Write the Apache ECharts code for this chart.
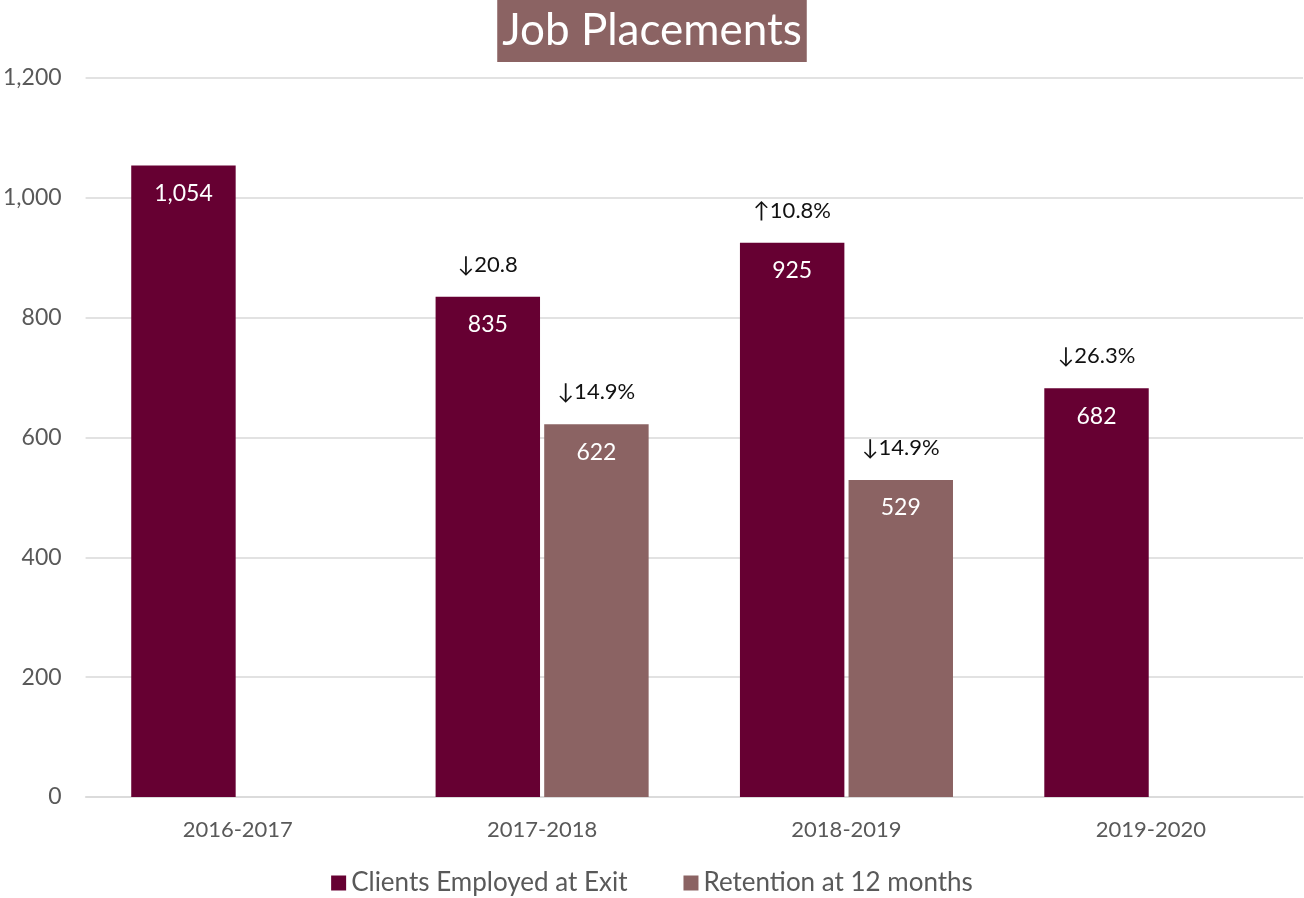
<!DOCTYPE html>
<html>
<head>
<meta charset="utf-8">
<script src="https://cdn.jsdelivr.net/npm/echarts@6/dist/echarts.min.js"></script>
<style>
  html, body { margin: 0; padding: 0; background: #fff; }
  #chart-container { width: 1304px; height: 898px; }
</style>
</head>
<body>
<div id="chart-container"></div>
<script>
const years = ['2016-2017', '2017-2018', '2018-2019', '2019-2020']
const employed = [1054, 835, 925, 682]
const retention = [null, 622, 529, null]
const employedNotes = ['', '↓20.8', '↑10.8%', '↓26.3%']
const retentionNotes = ['', '↓14.9%', '↓14.9%', '']
const yTicks = [0, 200, 400, 600, 800, 1000, 1200]

const font = 'Lato, "Open Sans", sans-serif'

const dom = document.getElementById('chart-container')
const myChart = echarts.init(dom, null, { renderer: 'canvas' })

const barLabel = notes => ({
  show: true,
  position: 'insideTop',
  distance: 0,
  offset: [0, -80],
  formatter: p => '{a|' + (notes[p.dataIndex] || ' ') + '}\n{v|' + p.value.toLocaleString('en-US') + '}',
  rich: {
    a: { fontFamily: font, fontSize: 22, color: '#111', lineHeight: 96, align: 'center' },
    v: { fontFamily: font, fontSize: 23, color: '#fff', lineHeight: 24, align: 'center' }
  }
})

const options = {
  title: {
    text: 'Job Placements',
    left: 'center',
    top: 0,
    backgroundColor: '#8B6363',
    padding: [9, 5, 9, 5],
    textStyle: {
      fontFamily: font,
      fontSize: 44,
      fontWeight: 'normal',
      color: '#fff'
    }
  },
  legend: {
    top: 865,
    left: 'center',
    icon: 'rect',
    itemWidth: 15,
    itemHeight: 15,
    itemGap: 56,
    textStyle: { fontFamily: font, fontSize: 26, color: '#595959' },
    data: ['Clients Employed at Exit', 'Retention at 12 months']
  },
  grid: { left: 85, right: 1, top: 78, bottom: 101 },
  xAxis: {
    type: 'category',
    data: years,
    axisLine: { lineStyle: { color: '#d9d9d9', width: 1.5 } },
    axisTick: { show: false },
    axisLabel: { fontFamily: font, fontSize: 22, color: '#595959', margin: 22 }
  },
  yAxis: {
    type: 'value',
    min: yTicks[0],
    max: yTicks[yTicks.length - 1],
    interval: 200,
    axisLine: { show: false },
    axisTick: { show: false },
    splitLine: { lineStyle: { color: '#d9d9d9', width: 1.5 } },
    axisLabel: {
      fontFamily: font, fontSize: 23, color: '#595959', margin: 24,
      formatter: v => v.toLocaleString('en-US')
    }
  },
  series: [
    {
      name: 'Clients Employed at Exit',
      type: 'bar',
      color: '#660032',
      barGap: '4%',
      barCategoryGap: '30%',
      label: barLabel(employedNotes),
      data: employed
    },
    {
      name: 'Retention at 12 months',
      type: 'bar',
      color: '#8B6363',
      label: barLabel(retentionNotes),
      data: retention
    }
  ]
}

myChart.setOption(options)
window.addEventListener('resize', myChart.resize)
</script>
</body>
</html>
